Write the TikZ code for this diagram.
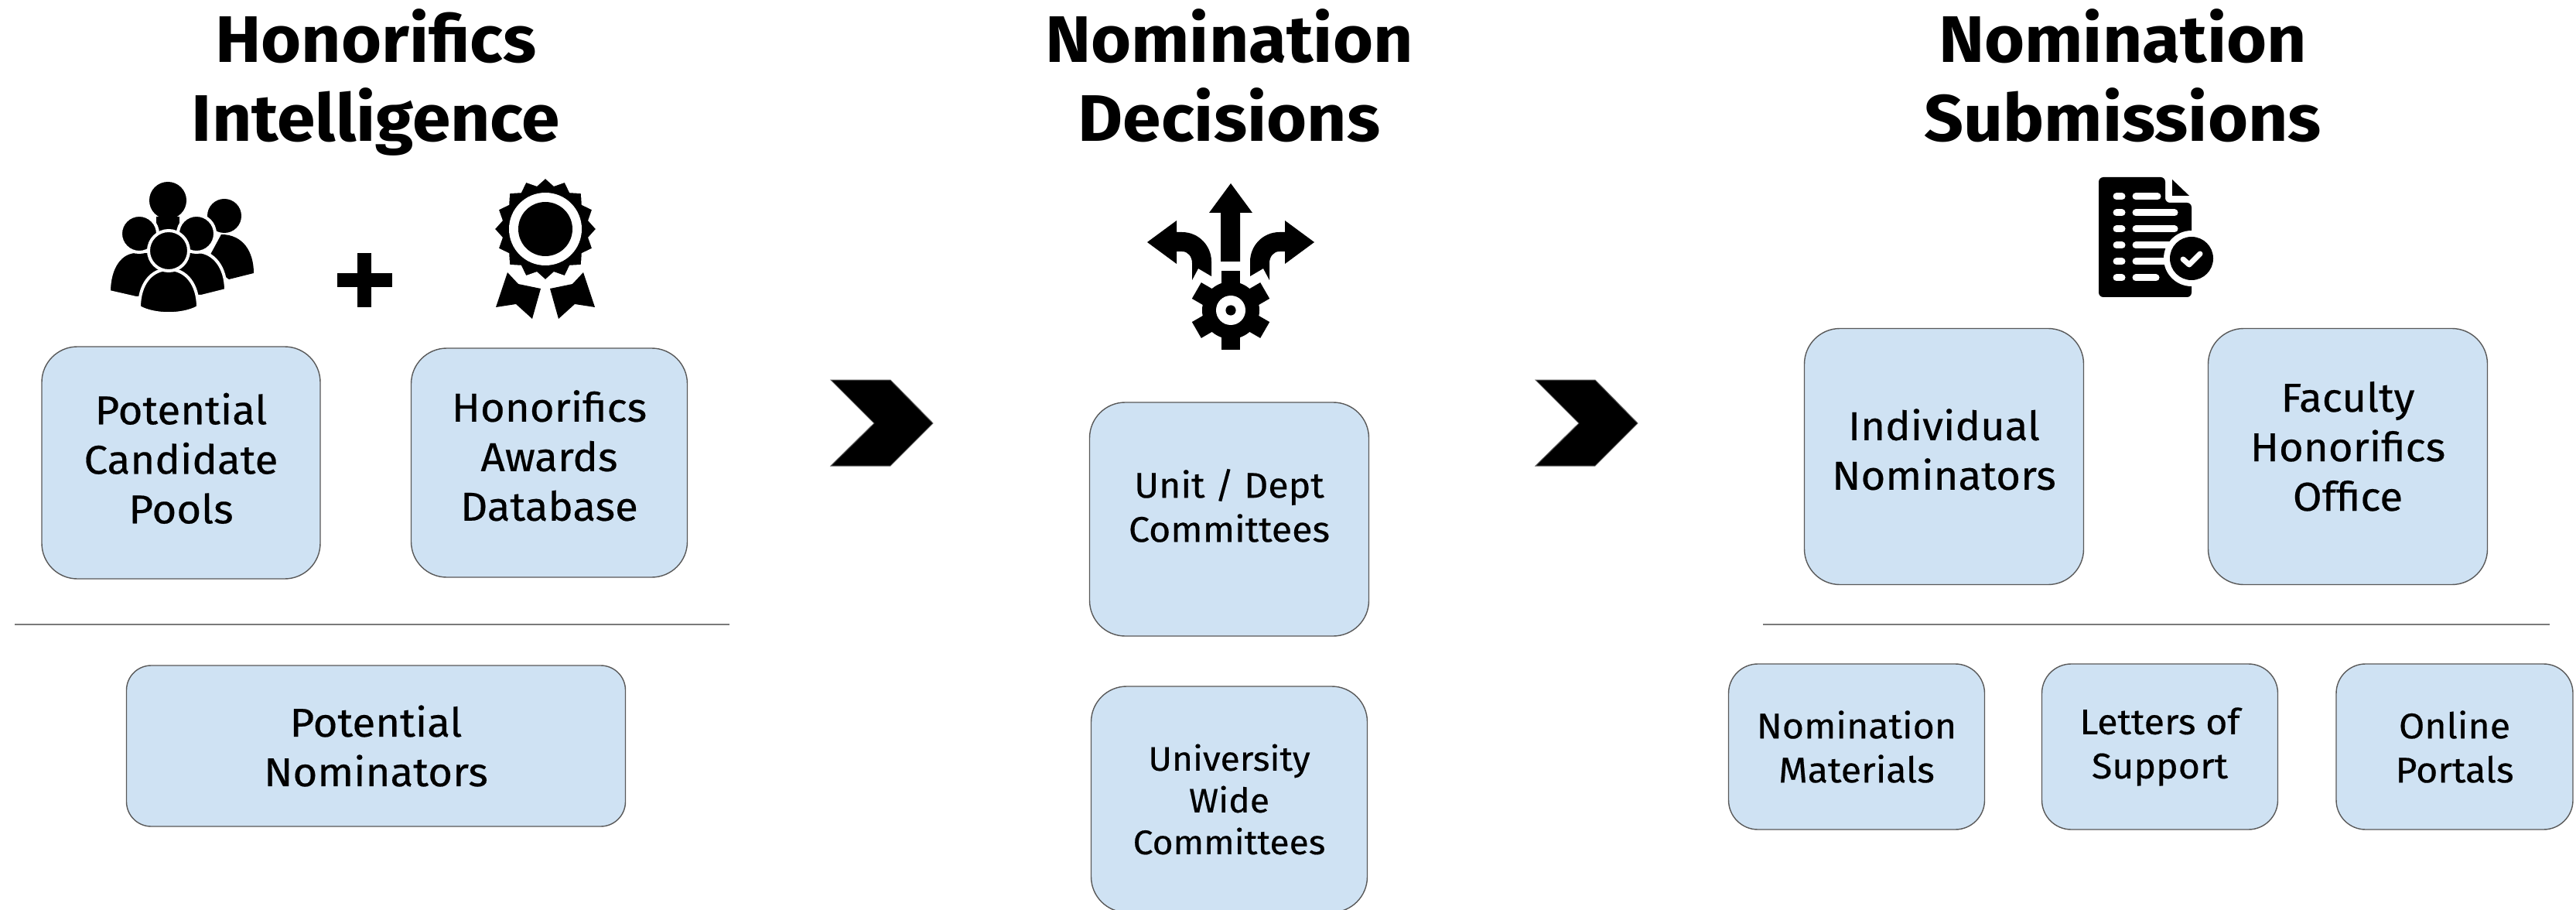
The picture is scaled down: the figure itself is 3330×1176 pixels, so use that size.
\documentclass[tikz,border=0pt]{standalone}
\usepackage{fontspec}
\setmainfont{Fira Sans}[FakeStretch=1.05, FakeBold=0.4, BoldFeatures={FakeBold=0}]
\definecolor{boxblue}{HTML}{CFE2F3}
\definecolor{edgegray}{HTML}{595959}
\tikzset{
    boxnode/.style={draw=edgegray, fill=boxblue, rectangle, line width=0.7pt, align=center, inner sep=0pt},
    bigbox/.style={boxnode, rounded corners=23pt, font=\fontsize{26}{32}\selectfont},
    smallbox/.style={boxnode, rounded corners=19pt, font=\fontsize{23}{28.5}\selectfont},
    titlenode/.style={align=center, font=\fontsize{42.5}{51}\selectfont\bfseries},
    sepline/.style={draw=edgegray!80, line width=0.7pt},
    person/.style={fill=black, draw=white, line width=2pt},
}
\begin{document}
\begin{tikzpicture}[x=0.5pt, y=-0.5pt]
    \useasboundingbox (0,0) rectangle (3330,1176);

    % titles
    \node[titlenode] (intelTitle) at (486,106) {Honorifics\\Intelligence};
    \node[titlenode] (decideTitle) at (1589,98) {Nomination\\Decisions};
    \node[titlenode] (submitTitle) at (2744,98) {Nomination\\Submissions};

    % people icon
    \begin{scope}[shift={(-4,0)}]
    \fill (221,259) circle (12pt);
    \fill (206,280) rectangle (236,305);
    \fill (294,279) circle (11pt);
    \fill (290,303) .. controls (318,303) and (332,325) .. (332,353) -- (300,361) -- (270,340) -- cycle;
    \draw[person] (258,325) .. controls (280,325) and (296,345) .. (296,375) -- (264,383) -- (220,383) -- (215,325) -- cycle;
    \draw[person] (180,325) .. controls (160,325) and (145,345) .. (145,377) -- (180,385) -- (220,385) -- (225,325) -- cycle;
    \draw[person] (184,302) circle (12pt);
    \draw[person] (258,302) circle (12pt);
    \draw[person] (222,348) .. controls (245,348) and (260,368) .. (260,397) .. controls (240,408) and (204,408) .. (184,397) .. controls (184,368) and (199,348) .. (222,348) -- cycle;
    \draw[person] (222,324) circle (13pt);
    \end{scope}

    % plus
    \fill (462,327) rectangle (480,397);
    \fill (436,353) rectangle (507,371);

    % rosette icon
    \begin{scope}[shift={(-9,0)}]
    \fill (650,397) -- (665,352) -- (679,367) -- (708,373) -- (697,412) -- (676,393) -- cycle;
    \fill (778,397) -- (763,352) -- (749,367) -- (720,373) -- (731,412) -- (752,393) -- cycle;
    \path[fill=black, draw=white, line width=1.5pt] (714,229)
        \foreach \a in {0,22.5,...,337.5} {-- ({714+67*sin(\a)},{296-67*cos(\a)}) -- ({714+58*sin(\a+11.25)},{296-58*cos(\a+11.25)})} -- cycle;
    \fill[white] (714,296) circle (23.5pt);
    \fill (714,296) circle (17.5pt);
    \end{scope}

    % decision icon
    \fill (1591,237) -- (1619,275) -- (1603,275) -- (1603,338) -- (1578,338) -- (1578,275) -- (1563,275) -- cycle;
    \fill (1483,313) -- (1521,285) -- (1521,300) -- (1528,300) .. controls (1550,300) and (1566,318) .. (1566,338) -- (1566,357) -- (1549,347) -- (1541,362) -- (1541,340) .. controls (1541,332) and (1536,325) .. (1528,325) -- (1521,325) -- (1521,341) -- cycle;
    \fill (1699,313) -- (1661,285) -- (1661,300) -- (1654,300) .. controls (1632,300) and (1616,318) .. (1616,338) -- (1616,357) -- (1633,347) -- (1641,362) -- (1641,340) .. controls (1641,332) and (1646,325) .. (1654,325) -- (1661,325) -- (1661,341) -- cycle;
    \foreach \a in {30,90,...,330}
        \fill[rotate around={\a:(1591,401)}] (1591,389) rectangle (1642,413);
    \fill (1591,401) circle (18.5pt);
    \fill[white] (1591,401) circle (9.5pt);
    \fill (1591,401) circle (3.3pt);

    % document icon
    \fill[rounded corners=3pt] (2713,229) -- (2799,229) -- (2799,262) -- (2833,262) -- (2833,384) -- (2713,384) -- cycle;
    \fill (2808,232) -- (2808,253) -- (2830,253) -- cycle;
    \foreach \r/\e in {254/2789,275/2811,296/2811,317/2811,338/2811,359/2787} {
        \draw[white, line width=4.5pt, line cap=round] (2736,\r) -- (2743,\r);
        \draw[white, line width=4.5pt, line cap=round] (2761,\r) -- (\e,\r);
    }
    \fill[white] (2833,334) circle (18pt);
    \fill[white] (2836,300) rectangle (2860,370);
    \fill (2833,334) circle (14pt);
    \draw[white, line width=3.5pt, line cap=round, line join=round] (2822,335) -- (2830,342) -- (2844,328);

    % chevrons
    \foreach \s in {0,911}
        \draw[draw=edgegray, fill=black, line width=0.5pt, shift={(\s,0)}] (1074,491) -- (1151,491) -- (1206,547) -- (1151,602) -- (1074,602) -- (1130,547) -- cycle;

    % left column
    \node[bigbox, minimum width=180pt, minimum height=150pt] (candidatePools) at (234,598) {Potential\\Candidate\\Pools\\[-26pt]};
    \node[bigbox, minimum width=178.5pt, minimum height=148pt] (awardsDb) at (710,598) {Honorifics\\Awards\\Database\\[-22.5pt]};
    \draw[sepline] (19,807) -- (943,807);
    \node[bigbox, rounded corners=16pt, minimum width=322.5pt, minimum height=104pt] (nominators) at (486,964) {Potential\\Nominators};

    % middle column
    \node[smallbox, rounded corners=23pt, minimum width=180.5pt, minimum height=151pt] (unitComm) at (1589,671) {Unit / Dept\\Committees\\[-10.6pt]};
    \node[smallbox, rounded corners=23pt, font=\fontsize{22}{27}\selectfont, minimum width=178.5pt, minimum height=146pt] (univComm) at (1589,1033) {University\\Wide\\Committees};

    % right column
    \node[bigbox, minimum width=180.5pt, minimum height=165.5pt] (individual) at (2513,590) {Individual\\Nominators\\[-22.5pt]};
    \node[bigbox, minimum width=180.5pt, minimum height=165.5pt] (facultyOffice) at (3035,590) {Faculty\\Honorifics\\Office\\[-18.5pt]};
    \draw[sepline] (2279,807) -- (3296,807);
    \node[smallbox, minimum width=165.5pt, minimum height=107pt] (materials) at (2400,965) {Nomination\\Materials};
    \node[smallbox, minimum width=152.5pt, minimum height=107pt] (letters) at (2792,965) {Letters of\\Support};
    \node[smallbox, minimum width=153pt, minimum height=107pt] (portals) at (3173,965) {Online\\Portals};
\end{tikzpicture}
\end{document}
